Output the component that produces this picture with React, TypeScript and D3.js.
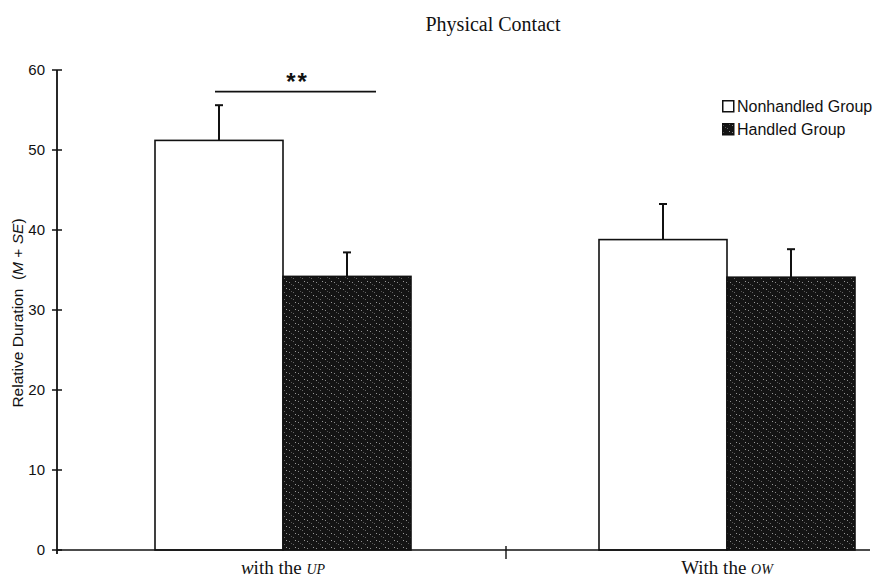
import * as d3 from "d3";

const groups = ["UP", "OW"];
const seriesNames = ["Nonhandled Group", "Handled Group"];
const nonhandledMeans = [51.2, 38.8];
const nonhandledSE = [4.4, 4.45];
const handledMeans = [34.2, 34.1];
const handledSE = [3.0, 3.5];
const yTicks = [0, 10, 20, 30, 40, 50, 60];

const width = 874;
const height = 578;
const marginLeft = 57;
const marginTop = 70;
const marginBottom = 28;

export default function App() {
  const y = d3.scaleLinear()
    .domain([0, 60])
    .range([height - marginBottom, marginTop]);

  const x0 = d3.scaleBand()
    .domain(groups)
    .range([61, 949])
    .paddingInner(1 - 256 / 444)
    .paddingOuter((1 - 256 / 444) / 2);

  const x1 = d3.scaleBand()
    .domain(seriesNames)
    .range([0, x0.bandwidth()]);

  const bars = groups.flatMap((g, i) => [
    { group: g, series: seriesNames[0], mean: nonhandledMeans[i], se: nonhandledSE[i] },
    { group: g, series: seriesNames[1], mean: handledMeans[i], se: handledSE[i] },
  ]);

  const fillFor = (s) => (s === seriesNames[0] ? "#ffffff" : "url(#speckle)");
  const y0 = y(0);

  // significance bracket over the first group
  const sigStart = x0("UP") + x1(seriesNames[0]) + x1.bandwidth() / 2 - 4;
  const sigEnd = x0("UP") + x1(seriesNames[1]) + x1.bandwidth() / 2 + 29;
  const sigY = y(57.3);

  return (
    <svg
      width={width}
      height={height}
      viewBox={`0 0 ${width} ${height}`}
      style={{ position: "absolute", left: 0, top: 0, background: "#fff" }}
    >
      <defs>
        <pattern id="speckle" width="9" height="7" patternUnits="userSpaceOnUse">
          <rect width="9" height="7" fill="#141414" />
          <rect x="1" y="2" width="1" height="1" fill="#8a8a8a" />
          <rect x="5" y="5" width="1" height="1" fill="#666" />
          <rect x="7" y="1" width="1" height="1" fill="#9a9a9a" />
          <rect x="3" y="4" width="1" height="1" fill="#555" />
        </pattern>
      </defs>

      <text
        x={493}
        y={31}
        textAnchor="middle"
        fontFamily="'Liberation Serif', 'Times New Roman', serif"
        fontSize={20}
        fill="#111"
      >
        Physical Contact
      </text>

      {/* bars */}
      <g stroke="#111" strokeWidth={1.6}>
        {bars.map((d) => (
          <rect
            key={d.group + d.series}
            x={x0(d.group) + x1(d.series)}
            y={y(d.mean)}
            width={x1.bandwidth()}
            height={y0 - y(d.mean)}
            fill={fillFor(d.series)}
          />
        ))}
      </g>

      {/* error bars */}
      <g stroke="#111" strokeWidth={2}>
        {bars.map((d) => {
          const cx = x0(d.group) + x1(d.series) + x1.bandwidth() / 2;
          return (
            <g key={"e" + d.group + d.series}>
              <line x1={cx} x2={cx} y1={y(d.mean)} y2={y(d.mean + d.se)} />
              <line x1={cx - 4} x2={cx + 4} y1={y(d.mean + d.se)} y2={y(d.mean + d.se)} />
            </g>
          );
        })}
      </g>

      {/* y axis */}
      <g fontFamily="'Liberation Sans', Arial, sans-serif" fontSize={15} fill="#111">
        <line x1={marginLeft} x2={marginLeft} y1={y(60)} y2={y0 + 4} stroke="#111" strokeWidth={1.8} />
        {yTicks.map((t) => (
          <g key={t}>
            <line x1={marginLeft - 5} x2={marginLeft + 5} y1={y(t)} y2={y(t)} stroke="#111" strokeWidth={1.5} />
            <text x={marginLeft - 12} y={y(t)} dy="0.35em" textAnchor="end">
              {t}
            </text>
          </g>
        ))}
        <text
          transform={`translate(23,${(y(0) + y(60)) / 2 + 3}) rotate(-90)`}
          textAnchor="middle"
          fontSize={15.5}
        >
          Relative Duration{"\u00a0\u00a0"}(<tspan fontStyle="italic">M</tspan> + <tspan fontStyle="italic">SE</tspan>)
        </text>
      </g>

      {/* x axis */}
      <line x1={marginLeft} x2={870} y1={y0} y2={y0} stroke="#111" strokeWidth={1.6} />
      <line x1={506} x2={506} y1={y0 - 4} y2={y0 + 9} stroke="#111" strokeWidth={1.4} />
      <g fontFamily="'Liberation Serif', 'Times New Roman', serif" fontSize={19} fill="#111" textAnchor="middle">
        <text x={x0("UP") + x0.bandwidth() / 2} y={574}>
          <tspan fontStyle="italic">w</tspan>ith the <tspan fontStyle="italic" fontSize={14}>UP</tspan>
        </text>
        <text x={x0("OW") + x0.bandwidth() / 2} y={574}>
          With the <tspan fontStyle="italic" fontSize={14}>OW</tspan>
        </text>
      </g>

      {/* significance */}
      <line x1={sigStart} x2={sigEnd} y1={sigY} y2={sigY} stroke="#111" strokeWidth={1.8} />
      <text
        x={(sigStart + sigEnd) / 2 + 2}
        y={90}
        textAnchor="middle"
        fontFamily="'Liberation Sans', Arial, sans-serif"
        fontSize={24}
        fontWeight="bold"
        letterSpacing={2}
        fill="#111"
      >
        **
      </text>

      {/* legend */}
      <g fontFamily="'Liberation Sans', Arial, sans-serif" fontSize={16} fill="#111">
        {seriesNames.map((s, i) => (
          <g key={s} transform={`translate(722,${100 + i * 23})`}>
            <rect x={0.75} y={0.75} width={11} height={11} fill={fillFor(s)} stroke="#111" strokeWidth={1.5} />
            <text x={15} y={12}>
              {s}
            </text>
          </g>
        ))}
      </g>
    </svg>
  );
}
